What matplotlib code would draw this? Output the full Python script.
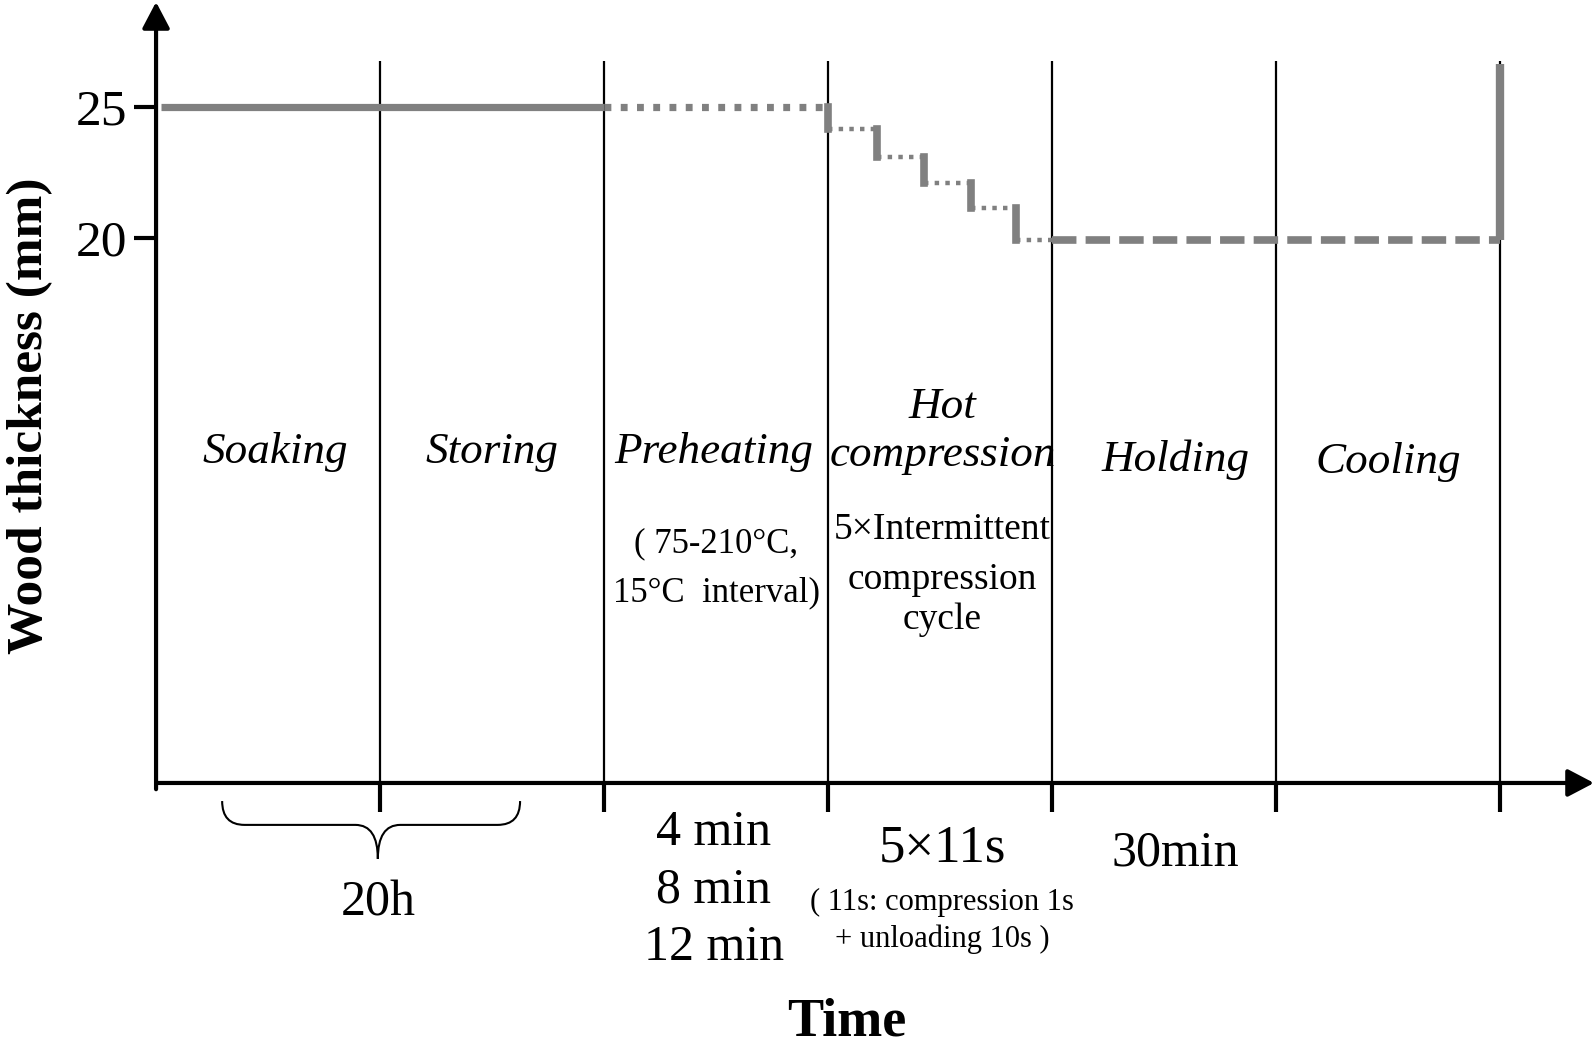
import matplotlib.pyplot as plt
from matplotlib.path import Path
from matplotlib.patches import PathPatch

plt.rcParams['font.family'] = ['Liberation Serif', 'DejaVu Serif']

# phases along the time axis (boundaries in phase units)
phase_names = ["Soaking", "Storing", "Preheating", "Hot\ncompression", "Holding", "Cooling"]
phase_edges = [1, 2, 3, 4, 5, 6]

# wood thickness (mm)
y_ticks = [20, 25]
initial_thickness = 25
target_thickness = 19.93
press_times = [3.0, 3.22, 3.43, 3.64, 3.84]
press_levels = [24.17, 23.1, 22.1, 21.15, 19.93]
release_thickness = 26.65

preheat_note = ["( 75-210°C,", "15°C  interval)"]
press_note = ["5×Intermittent", "compression", "cycle"]
preheat_times = "4 min\n8 min\n12 min"
soak_store_time = "20h"
press_time = "5×11s"
press_time_note = "( 11s: compression 1s\n+ unloading 10s )"
holding_time = "30min"

gray = '#808080'

fig = plt.figure(figsize=(15.94, 10.49), dpi=100)
ax = fig.add_axes([0.0979, 0.2536, 0.9003, 0.7445])
ax.set_xlim(0, 6.406)
ax.set_ylim(-0.80, 29.01)

for sp in ax.spines.values():
    sp.set_visible(False)

# axes with arrow heads
arrow = dict(arrowstyle='-|>,head_length=0.8,head_width=0.42', lw=3, color='black',
             shrinkA=0, shrinkB=0, mutation_scale=20)
ax.annotate('', xy=(0, 1), xytext=(0, -0.008), xycoords='axes fraction', arrowprops=arrow)
ax.annotate('', xy=(1.002, 0), xytext=(0, 0), xycoords='axes fraction', arrowprops=arrow)

ax.set_yticks(y_ticks)
ax.tick_params(axis='y', length=16, width=3, labelsize=37, pad=5)
ax.set_xticks(phase_edges)
ax.tick_params(axis='x', length=21, width=3, labelbottom=False)

# phase separators
ax.vlines(phase_edges, -0.80, 26.75, colors='black', lw=1.6, zorder=1)

# thickness profile
ax.plot([0.02, 2], [initial_thickness] * 2, color=gray, lw=5.2, solid_capstyle='butt')
ax.plot([2, 3], [initial_thickness] * 2, color=gray, lw=5.2, linestyle=(0, (0.95, 1.3)))
prev = initial_thickness
for i, x in enumerate(press_times):
    ax.plot([x, x], [prev, press_levels[i]], color=gray, lw=5.5, solid_capstyle='projecting')
    x_end = press_times[i + 1] if i + 1 < len(press_times) else 4
    ax.plot([x, x_end], [press_levels[i]] * 2, color=gray, lw=3.2, linestyle=(0, (1, 1.4)))
    prev = press_levels[i]
ax.plot([4, 6], [target_thickness] * 2, color=gray, lw=5.5, linestyle=(0, (3.2, 1.2)))
ax.plot([6, 6], [target_thickness, release_thickness], color=gray, lw=6, solid_capstyle='butt')

# phase names
name_x = [0.53, 1.5, 2.49, 3.51, 4.55, 5.5]
name_y = [11.83, 11.83, 11.83, 12.63, 11.55, 11.47]
for i, name in enumerate(phase_names):
    ax.text(name_x[i], name_y[i], name, fontsize=32.5, style='italic',
            ha='center', va='center', linespacing=1.26)

for txt, y in zip(preheat_note, [8.32, 6.45]):
    ax.text(2.5, y, txt, fontsize=25, ha='center', va='center')
for txt, y in zip(press_note, [8.85, 6.94, 5.42]):
    ax.text(3.51, y, txt, fontsize=27, ha='center', va='center')

# durations under the axis
ax.text(0.99, -5.38, soak_store_time, fontsize=36, ha='center', va='center')
ax.text(2.49, -4.89, preheat_times, fontsize=36, ha='center', va='center', linespacing=1.3)
ax.text(3.51, -3.29, press_time, fontsize=38, ha='center', va='center')
ax.text(3.51, -6.07, press_time_note, fontsize=22, ha='center', va='center', linespacing=1.3)
ax.text(4.55, -3.5, holding_time, fontsize=36, ha='center', va='center')

# curly brace over soaking + storing
bl, br, bm = 0.295, 1.625, 0.99
bt, bh, bp = -1.49, -2.40, -3.70
verts = [(bl, bt), (bl, bh), (bl + 0.1, bh), (bm - 0.1, bh), (bm, bh), (bm, bp),
         (bm, bp), (bm, bh), (bm + 0.1, bh), (br - 0.1, bh), (br, bh), (br, bt)]
codes = [Path.MOVETO, Path.CURVE3, Path.CURVE3, Path.LINETO, Path.CURVE3, Path.CURVE3,
         Path.MOVETO, Path.CURVE3, Path.CURVE3, Path.LINETO, Path.CURVE3, Path.CURVE3]
ax.add_patch(PathPatch(Path(verts, codes), facecolor='none', edgecolor='black', lw=1.5,
                       clip_on=False))

ax.set_xlabel('Time', fontsize=39, fontweight='bold', va='center')
ax.xaxis.set_label_coords(0.4815, -0.307)
ax.set_ylabel('Wood thickness (mm)', fontsize=37, fontweight='bold', va='center')
ax.yaxis.set_label_coords(-0.0875, 0.4705)

fig.savefig('out.png', dpi=100)
